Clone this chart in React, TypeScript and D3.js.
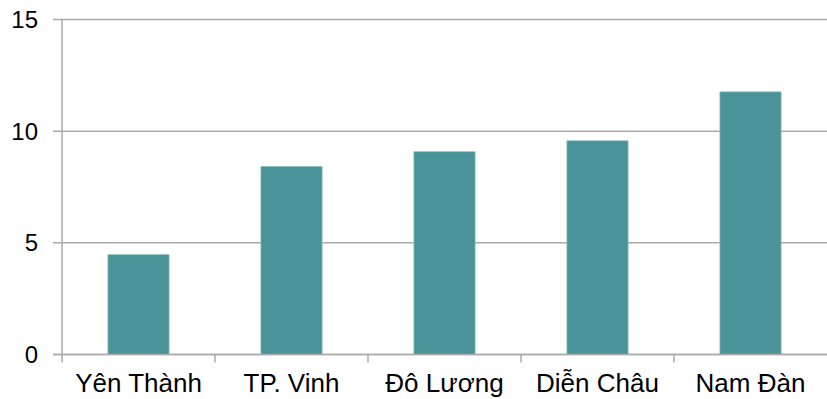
import React from "react";
import * as d3 from "d3";

const districts = ["Yên Thành", "TP. Vinh", "Đô Lương", "Diễn Châu", "Nam Đàn"];
const values = [4.47, 8.42, 9.08, 9.57, 11.76];
const yTicks = [0, 5, 10, 15];

const W = 827;
const H = 399;
const margin = { left: 62, right: 0, top: 19.5, bottom: 44.5 };

export default function App() {
  const x = d3
    .scaleBand<string>()
    .domain(districts)
    .range([margin.left, W - margin.right])
    .paddingInner(0)
    .paddingOuter(0);
  const y = d3
    .scaleLinear()
    .domain([0, 15])
    .range([H - margin.bottom, margin.top]);

  const band = x.bandwidth();
  const barW = band * 0.4;
  const y0 = y(0);
  const gridColor = "#ababab";
  const font = "Arial, 'Liberation Sans', sans-serif";

  return (
    <svg
      width={W}
      height={H}
      style={{ position: "absolute", left: 0, top: 0, background: "#fff" }}
    >
      {/* horizontal gridlines and y ticks */}
      {yTicks.map((t) => (
        <g key={t}>
          <line
            x1={margin.left - 9}
            x2={W - margin.right}
            y1={y(t)}
            y2={y(t)}
            stroke={gridColor}
            strokeWidth={1.5}
          />
          <text
            x={38}
            y={y(t)}
            dy="0.36em"
            textAnchor="end"
            fontFamily={font}
            fontSize={24}
            fill="#000"
          >
            {t}
          </text>
        </g>
      ))}

      {/* y axis line */}
      <line
        x1={margin.left}
        x2={margin.left}
        y1={y(15)}
        y2={y0 + 8}
        stroke={gridColor}
        strokeWidth={1.5}
      />

      {/* category boundary ticks */}
      {districts.slice(1).map((d) => (
        <line
          key={d}
          x1={x(d)!}
          x2={x(d)!}
          y1={y0}
          y2={y0 + 8}
          stroke={gridColor}
          strokeWidth={1.5}
        />
      ))}

      {/* bars */}
      {districts.map((d, i) => (
        <rect
          key={d}
          x={x(d)! + (band - barW) / 2}
          y={y(values[i])}
          width={barW}
          height={y0 - y(values[i])}
          fill="#4a9399"
          stroke="#8fc2c6"
          strokeWidth={0.75}
        />
      ))}

      {/* baseline over bars */}
      <line
        x1={margin.left - 9}
        x2={W - margin.right}
        y1={y0}
        y2={y0}
        stroke={gridColor}
        strokeWidth={1.5}
      />

      {/* category labels */}
      {districts.map((d) => (
        <text
          key={d}
          x={x(d)! + band / 2}
          y={392}
          textAnchor="middle"
          fontFamily={font}
          fontSize={26}
          fill="#000"
        >
          {d}
        </text>
      ))}
    </svg>
  );
}
